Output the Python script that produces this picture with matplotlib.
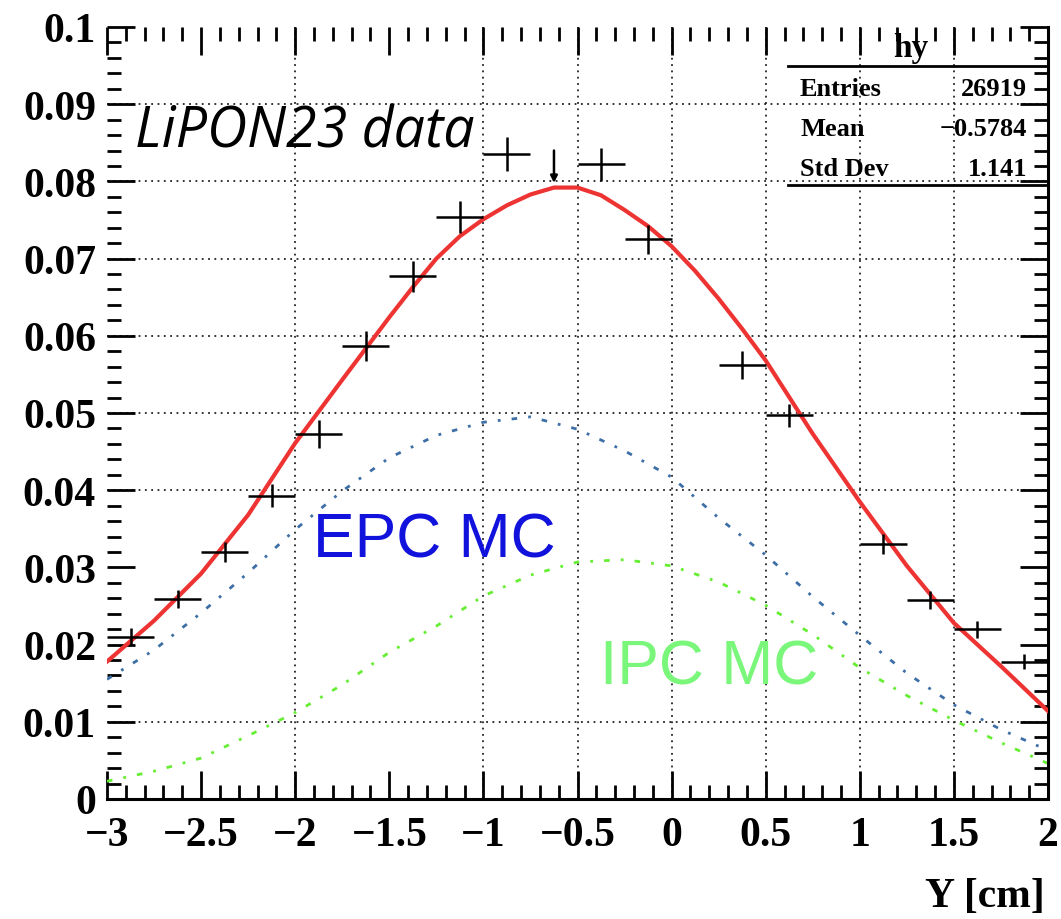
import matplotlib.pyplot as plt
from matplotlib.ticker import MultipleLocator
from matplotlib.lines import Line2D

# histogram hy : bin centres, contents, errors
bin_x = [-2.875, -2.625, -2.375, -2.125, -1.875, -1.625, -1.375, -1.125, -0.875,
         -0.375, -0.125, 0.375, 0.625, 1.125, 1.375, 1.625, 1.875]
bin_y = [0.0210, 0.0259, 0.0320, 0.0393, 0.0473, 0.0587, 0.0677, 0.0754, 0.0835,
         0.0822, 0.0725, 0.0562, 0.0497, 0.0330, 0.0258, 0.0220, 0.0178]
bin_err = [0.0011, 0.0012, 0.0013, 0.0015, 0.0018, 0.0019, 0.0020, 0.0021, 0.0022,
           0.0021, 0.0019, 0.0018, 0.0015, 0.0013, 0.0012, 0.0011, 0.0010]
bin_half = 0.125

# the lone arrow at the -0.625 bin
arrow_x = -0.625
arrow_top = 0.0840
arrow_tip = 0.0798

fit_x = [-3.0, -2.75, -2.5, -2.25, -2.0, -1.75, -1.5, -1.375, -1.25, -1.125, -1.0, -0.875,
         -0.75, -0.625, -0.5, -0.375, -0.25, -0.125, 0.0, 0.125, 0.25, 0.375, 0.5, 0.75,
         1.0, 1.25, 1.5, 1.75, 2.0]
fit_y = [0.0178, 0.0231, 0.0292, 0.0368, 0.0461, 0.0543, 0.0624, 0.0663, 0.0700, 0.0729,
         0.0751, 0.0769, 0.0783, 0.0792, 0.0792, 0.0782, 0.0763, 0.0742, 0.0716, 0.0684,
         0.0648, 0.0609, 0.0568, 0.0473, 0.0385, 0.0302, 0.0228, 0.0172, 0.0114]

# MC curves sampled every 0.25 cm
curve_x = [-3.0, -2.75, -2.5, -2.25, -2.0, -1.75, -1.5, -1.25, -1.0, -0.75, -0.5,
           -0.25, 0.0, 0.25, 0.5, 0.75, 1.0, 1.25, 1.5, 1.75, 2.0]
epc_y = [0.0155, 0.0193, 0.0241, 0.0293, 0.0349, 0.0399, 0.0442, 0.0471, 0.0488, 0.0495, 0.0479,
         0.0451, 0.0417, 0.0364, 0.0316, 0.0262, 0.0212, 0.0163, 0.0122, 0.0090, 0.0063]
ipc_y = [0.0023, 0.0036, 0.0053, 0.0082, 0.0112, 0.0148, 0.0190, 0.0224, 0.0263, 0.0290, 0.0307,
         0.0310, 0.0302, 0.0281, 0.0251, 0.0213, 0.0170, 0.0134, 0.0102, 0.0073, 0.0046]

# stats box
stat_names = ['Entries', 'Mean', 'Std Dev']
stat_vals = ['26919', '\u22120.5784', '1.141']

grid_x = [-2, -1, -0.5, 0, 0.5, 1, 1.5]
grid_y = [0.01, 0.04, 0.05, 0.06, 0.07, 0.08, 0.09]

W, H = 1061, 920
fig = plt.figure(figsize=(W / 100, H / 100), dpi=100)
ax = fig.add_axes([107 / W, 1 - 800 / H, 941 / W, 772 / H])

ax.set_xlim(-3, 2)
ax.set_ylim(0, 0.1)

# grid (only where the original shows it)
for gx in grid_x:
    ax.axvline(gx, color='#222222', lw=1.3, ls=(0, (1, 2.5)), zorder=1)
for gy in grid_y:
    ax.axhline(gy, color='#222222', lw=1.3, ls=(0, (1, 2.5)), zorder=1)

# MC curves and fit
ax.plot(curve_x, epc_y, color='#3d6fa6', lw=2.0, ls=(0, (2, 4, 1, 4)), zorder=2)
ax.plot(curve_x, ipc_y, color='#66ee33', lw=2.0, ls=(0, (2, 4, 1, 4)), zorder=2)
ax.plot(fit_x, fit_y, color='#ee3333', lw=3.0, zorder=3, solid_joinstyle='round')

# data points
ax.errorbar(bin_x, bin_y, xerr=bin_half, yerr=bin_err, fmt='none',
            ecolor='black', elinewidth=1.8, capsize=0, zorder=4)
ax.annotate('', xy=(arrow_x, arrow_tip), xytext=(arrow_x, arrow_top),
            arrowprops=dict(arrowstyle='-|>', color='black', lw=1.8,
                            mutation_scale=10, shrinkA=0, shrinkB=0), zorder=4)

# axes styling
for side in ['left', 'top']:
    ax.spines[side].set_visible(False)
for side in ['right', 'bottom']:
    ax.spines[side].set_linewidth(2.2)

tick_font = {'family': 'Liberation Serif', 'weight': 'bold', 'size': 30}
ax.xaxis.set_minor_locator(MultipleLocator(0.1))
ax.yaxis.set_minor_locator(MultipleLocator(0.002))
ax.tick_params(which='both', direction='in', top=True, right=True, colors='black')
ax.tick_params(which='major', length=20, width=2)
ax.tick_params(which='minor', length=10, width=2)
ax.tick_params(axis='x', which='major', pad=12)
ax.tick_params(axis='y', which='major', pad=8)

ax.set_xticks([-3, -2.5, -2, -1.5, -1, -0.5, 0, 0.5, 1, 1.5, 2])
ax.set_xticklabels(['\u22123', '\u22122.5', '\u22122', '\u22121.5', '\u22121', '\u22120.5',
                    '0', '0.5', '1', '1.5', '2'], fontdict=tick_font)
ax.set_yticks([0, 0.01, 0.02, 0.03, 0.04, 0.05, 0.06, 0.07, 0.08, 0.09, 0.1])
ax.set_yticklabels(['0', '0.01', '0.02', '0.03', '0.04', '0.05', '0.06', '0.07',
                    '0.08', '0.09', '0.1'], fontdict=tick_font)

fig.text(1045 / W, 1 - 897 / H, 'Y [cm]', ha='right', va='center', **tick_font)

# annotations
fig.text(135 / W, 1 - 148 / H, 'LiPON23 data', family='Open Sans', style='italic',
         fontsize=40, color='black', va='baseline')
fig.text(313 / W, 1 - 557 / H, 'EPC MC', family='Liberation Sans', fontsize=45,
         color='#1212dd', va='baseline')
fig.text(600 / W, 1 - 685 / H, 'IPC MC', family='Liberation Sans', fontsize=45,
         color='#7af77a', va='baseline')

# stats box
for yy in [0.9495, 0.795]:
    ax.add_line(Line2D([0.7237, 1.0], [yy, yy], transform=ax.transAxes,
                       color='black', lw=2, clip_on=False))
stat_font = {'family': 'Liberation Serif', 'weight': 'bold', 'size': 19}
ax.text(0.854, 0.974, 'hy', transform=ax.transAxes, ha='center', va='center',
        family='Liberation Serif', weight='bold', size=24)
for i, (nm, vl) in enumerate(zip(stat_names, stat_vals)):
    yy = 0.9197 - i * 0.0518
    ax.text(0.7365, yy, nm, transform=ax.transAxes, ha='left', va='center', **stat_font)
    ax.text(0.9777, yy, vl, transform=ax.transAxes, ha='right', va='center', **stat_font)

fig.savefig('out.png', dpi=100)
